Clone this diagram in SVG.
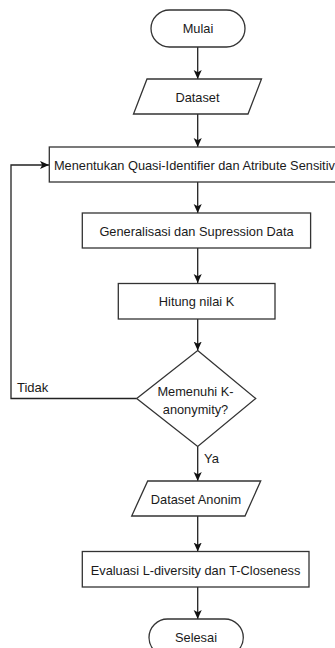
<svg xmlns="http://www.w3.org/2000/svg" width="335" height="648" viewBox="0 0 335 648">
<style>
.s{fill:#fff;stroke:#333;stroke-width:1.3}
.t{font-family:"Liberation Sans",Arial,sans-serif;font-size:12.8px;fill:#1a1a1a;text-anchor:middle;dominant-baseline:central}
.l{font-family:"Liberation Sans",Arial,sans-serif;font-size:13px;fill:#1a1a1a;dominant-baseline:central}
.c{fill:none;stroke:#222;stroke-width:1.3}
</style>
<defs>
<marker id="a" viewBox="0 0 10 10" refX="10" refY="5" markerWidth="9" markerHeight="9" markerUnits="userSpaceOnUse" orient="auto">
<path d="M0,0.5 L10,5 L0,9.5 L2.5,5 Z" fill="#111"/>
</marker>
</defs>
<rect width="335" height="648" fill="#fff"/>
<g id="connectors">
<line class="c" x1="197.7" y1="47" x2="197.7" y2="79" marker-end="url(#a)"/>
<line class="c" x1="197.7" y1="114" x2="197.7" y2="147" marker-end="url(#a)"/>
<line class="c" x1="197.7" y1="182" x2="197.7" y2="213" marker-end="url(#a)"/>
<line class="c" x1="197.7" y1="248" x2="197.7" y2="283" marker-end="url(#a)"/>
<line class="c" x1="197.7" y1="319" x2="197.7" y2="350.5" marker-end="url(#a)"/>
<polyline class="c" points="136.7,398.5 11,398.5 11,165 49,165" marker-end="url(#a)"/>
<line class="c" x1="197.7" y1="446.5" x2="197.7" y2="481" marker-end="url(#a)"/>
<line class="c" x1="197.7" y1="516" x2="197.7" y2="551.5" marker-end="url(#a)"/>
<line class="c" x1="197.7" y1="587" x2="197.7" y2="619" marker-end="url(#a)"/>
<text class="l" x="17" y="387.5">Tidak</text>
<text class="l" x="204" y="458.5">Ya</text>
</g>
<g id="mulai">
<rect class="s" x="151" y="10" width="94" height="37" rx="18.5"/>
<text class="t" x="198" y="28.5">Mulai</text>
</g>
<g id="dataset">
<polygon class="s" points="147,79 261.5,79 248,114 133.5,114"/>
<text class="t" x="197.5" y="97">Dataset</text>
</g>
<g id="menentukan">
<rect class="s" x="49.3" y="147" width="297" height="35"/>
<text class="t" x="198" y="165">Menentukan Quasi-Identifier dan Atribute Sensitive</text>
</g>
<g id="generalisasi">
<rect class="s" x="82.3" y="213" width="228.3" height="35"/>
<text class="t" x="196.5" y="231">Generalisasi dan Supression Data</text>
</g>
<g id="hitung">
<rect class="s" x="118.3" y="283.5" width="156.7" height="35.5"/>
<text class="t" x="196.5" y="301">Hitung nilai K</text>
</g>
<g id="memenuhi">
<polygon class="s" points="197.7,350.5 255.7,398.5 197.7,446.5 136.7,398.5"/>
<text class="t" x="195.5" y="391.5">Memenuhi K-</text>
<text class="t" x="195.5" y="409">anonymity?</text>
</g>
<g id="dataset-anonim">
<polygon class="s" points="147.7,481 260.7,481 245,516 131.7,516"/>
<text class="t" x="196" y="499">Dataset Anonim</text>
</g>
<g id="evaluasi">
<rect class="s" x="82.3" y="551.5" width="226.7" height="35.5"/>
<text class="t" x="195.5" y="570">Evaluasi L-diversity dan T-Closeness</text>
</g>
<g id="selesai">
<rect class="s" x="149" y="619" width="94.3" height="37" rx="18.5"/>
<text class="t" x="196" y="637">Selesai</text>
</g>
</svg>
